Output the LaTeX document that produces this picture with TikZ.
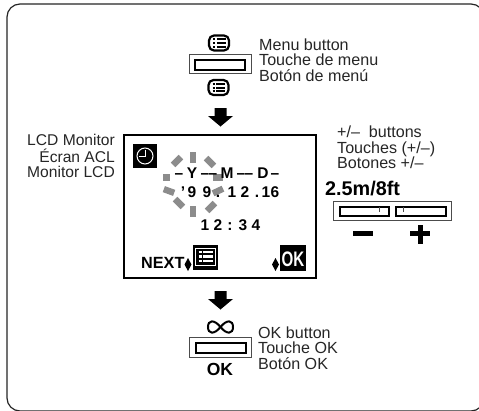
\documentclass[tikz,border=0pt]{standalone}
\usepackage{fontspec}
\setmainfont{Liberation Sans}
\tikzset{
  lbl/.style={inner sep=0pt,anchor=base west,text=black!85,font=\fontsize{16.1}{16}\selectfont},
  lblr/.style={inner sep=0pt,anchor=base east,text=black!85,font=\fontsize{15.6}{16}\selectfont},
  lcd/.style={inner sep=0pt,anchor=base,font=\fontsize{15.5}{15}\selectfont\bfseries},
  ray/.style={fill=black!45,draw=none},
  btnout/.style={draw=black!70,line width=1pt,fill=white},
  btnin/.style={draw=black,line width=2pt,fill=white},
  darrow/.style={fill=black,draw=none},
  blk/.style={fill=black,draw=none}
}
\newcommand{\menuicon}[2]{%
  \begin{scope}[shift={(#1,#2)}]
    \draw[line width=2.2pt,black,rounded corners=5pt] (-10,-7.5) rectangle (10,7.5);
    \foreach \yy in {-3.6,0,3.6}{\draw[line width=2pt,black] (-6,\yy) -- (-3.8,\yy); \draw[line width=2pt,black] (-2.2,\yy) -- (6.5,\yy);}
  \end{scope}}
\newcommand{\downarrowmark}[2]{\fill[darrow] (#1-6,#2) -- (#1+6,#2) -- (#1+6,#2+8) -- (#1+12.5,#2+8) -- (#1,#2+18.5) -- (#1-12.5,#2+8) -- (#1-6,#2+8) -- cycle;}
\begin{document}
\begin{tikzpicture}[x=1pt,y=-1pt]
\useasboundingbox (0,0) rectangle (479,410);
\clip (0,0) rectangle (479,410);
\fill[white] (0,0) rectangle (479,410);
\draw[line width=1.2pt,black!85,rounded corners=13pt] (7,4) rectangle (484,411);
% top button
\menuicon{219}{43}
\draw[btnout] (189,54) rectangle (251,73);
\draw[btnin] (195,60) rectangle (245,70);
\menuicon{218.5}{87.5}
\downarrowmark{220.5}{108}
\node[lbl] (m1) at (259,50) {Menu button};
\node[lbl] (m2) at (259,65.5) {Touche de menu};
\node[lbl] (m3) at (259,81) {Botón de menú};
% LCD
\draw[line width=2pt,black] (124,135) rectangle (316,278);
\node[lblr] (l1) at (115,145) {LCD Monitor};
\node[lblr] (l2) at (115,162) {Écran ACL};
\node[lblr] (l3) at (115,177) {Monitor LCD};
% clock
\fill[blk] (133,144) rectangle (157,168);
\draw[white,line width=1pt] (145,156) circle (8);
\draw[white,line width=1pt] (145,149.5) -- (145,156) -- (139,156);
% rays
\foreach \cx/\cy/\ang in {193/157/90,177/161/45,210/162/135,218/191/25,169/191/-20,179/203/-45,211/207/45,193/211/90}{
  \fill[ray,rotate around={\ang:(\cx,\cy)}] (\cx-5.5,\cy-3.2) rectangle (\cx+5.5,\cy+3.2);
}
\fill[ray] (162.5,174) rectangle (170,180.5);
\fill[ray] (212.5,174) rectangle (223,180.5);
\foreach \tx/\ts/\ty in {179/\textendash/178,192/Y/178,205/\textendash/178,213/\textendash/178,227/M/178,241/\textendash/178,249/\textendash/178,263/D/178,275/\textendash/178,
  183/'/197,192/9/197,207/9/197,218/./197,232/1/197,245/2/197,257/./197,266/1/197,275/6/197,
  205/1/230,218/2/230,230/:/230,243/3/230,256/4/230}{
  \node[lcd] at (\tx,\ty) {\ts};
}
\node[lcd,anchor=base west,font=\fontsize{16.2}{16}\selectfont\bfseries] (nx) at (141,268) {NEXT};
\fill[blk] (184.5,264.5) -- (188,258) -- (191.5,264.5) -- (188,271) -- cycle;
\fill[blk] (193,245) rectangle (218,270);
\draw[white,line width=0.7pt] (195.5,248) rectangle (215,265);
\foreach \yy in {252,256.5,261}{\draw[white,line width=2.6pt] (198.5,\yy) -- (201.5,\yy);\draw[white,line width=2.6pt] (203,\yy) -- (212.5,\yy);}
\fill[blk] (272,264.5) -- (275.5,258) -- (279,264.5) -- (275.5,271) -- cycle;
\fill[blk] (280,245) rectangle (306,271);
\node[inner sep=0pt,anchor=base,text=white,xscale=.72,transform shape,font=\fontsize{21}{21}\selectfont\bfseries] (ok) at (293,266) {OK};
% plus minus
\node[lbl] (p1) at (337,137) {+/--\ \ buttons};
\node[lbl] (p2) at (337,153) {Touches (+/--)};
\node[lbl] (p3) at (337,168) {Botones +/--};
\node[inner sep=0pt,anchor=base west,font=\fontsize{19.8}{20}\selectfont\bfseries] (sz) at (325,195) {2.5m/8ft};
\draw[btnout] (333.5,201) rectangle (451.5,220);
\draw[btnin] (339.5,206.5) rectangle (389,216);
\draw[btnin] (396,206.5) rectangle (445.5,216);
\draw[black!70,line width=.6pt] (379,207) -- (379,212);
\draw[black!70,line width=.6pt] (403,207) -- (403,212);
\fill[blk] (353,231) rectangle (373,236);
\fill[blk] (410,231) rectangle (430,236);
\fill[blk] (417.5,225) rectangle (422.5,244);
% bottom
\downarrowmark{220.5}{291}
\draw[black,line width=2pt] (220.5,327) .. controls (214,319) and (208,320) .. (208,327) .. controls (208,334) and (214,335) .. (220.5,327) .. controls (227,319) and (233,320) .. (233,327) .. controls (233,334) and (227,335) .. (220.5,327);
\draw[btnout] (189.5,337.5) rectangle (251,357);
\draw[btnin] (196,343) rectangle (246,353);
\node[inner sep=0pt,anchor=base,font=\fontsize{17.5}{18}\selectfont\bfseries] (o) at (220,375) {OK};
\node[lbl] (k1) at (258,338) {OK button};
\node[lbl] (k2) at (258,353.5) {Touche OK};
\node[lbl] (k3) at (258,369) {Botón OK};
\end{tikzpicture}
\end{document}
